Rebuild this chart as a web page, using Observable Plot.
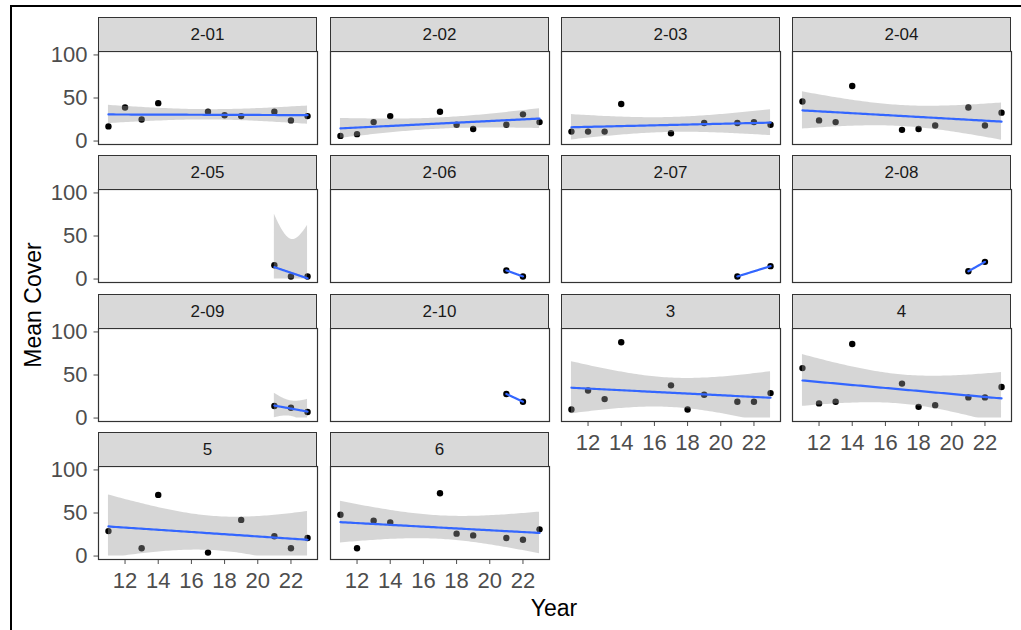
<!DOCTYPE html>
<html><head><meta charset="utf-8">
<script src="https://cdn.jsdelivr.net/npm/d3@7"></script>
<script src="https://cdn.jsdelivr.net/npm/@observablehq/plot@0.6"></script>
<style>
html,body{margin:0;padding:0;background:#fff;}
#chart{position:relative;width:1021px;height:630px;overflow:hidden;font-family:"Liberation Sans",Arial,sans-serif;background:#fff;}
#border{position:absolute;left:10px;top:5px;width:1100px;height:700px;border-left:2px solid #000;border-top:2px solid #000;}
.strip{position:absolute;box-sizing:border-box;border:1.2px solid #333;background:#D9D9D9;color:#1A1A1A;font-size:17px;display:flex;align-items:center;justify-content:center;}
.pn{position:absolute;}
.pn svg{overflow:visible;}
.title{position:absolute;font-size:23px;color:#000;line-height:23px;white-space:nowrap;}
</style></head><body><div id="chart"><div id="border"></div></div>
<script>
// ---- data ----
const panelNames = ["2-01","2-02","2-03","2-04","2-05","2-06","2-07","2-08","2-09","2-10","3","4","5","6"];
const panelYears = [
  [11,12,13,14,17,18,19,21,22,23],
  [11,12,13,14,17,18,19,21,22,23],
  [11,12,13,14,17,19,21,22,23],
  [11,12,13,14,17,18,19,21,22,23],
  [21,22,23],
  [21,22],
  [21,23],
  [21,22],
  [21,22,23],
  [21,22],
  [11,12,13,14,17,18,19,21,22,23],
  [11,12,13,14,17,18,19,21,22,23],
  [11,13,14,17,19,21,22,23],
  [11,12,13,14,17,18,19,21,22,23]
];
const panelCover = [
  [17,39,25,44,34,30,29,34,24,29],
  [6,8,22,29,34,19,14,19,31,22],
  [11,11,11,43,9,21,21,22,19],
  [46,24,22,64,13,14,18,39,18,33],
  [16,3,3],
  [10,3],
  [3,15],
  [9,20],
  [14,12,7],
  [28,19],
  [10,32,22,88,38,10,27,19,19,29],
  [58,17,19,86,40,13,15,24,24,36],
  [29,9,71,4,42,23,9,21],
  [48,9,41,39,73,26,24,21,19,31]
];
const xTicks = [12,14,16,18,20,22];
const yTicks = [0,50,100];
const xTitle = "Year";
const yTitle = "Mean Cover";

// two-sided 95% t quantiles by degrees of freedom
const T975 = [NaN,12.706,4.303,3.182,2.776,2.571,2.447,2.365,2.306,2.262,2.228,2.201,2.179];

// ---- layout ----
const colLeft = [98,330,561,792];
const stripTop = [17,155,294,432];
const PW = 219, PH = 93, SH = 34;
const chart = document.getElementById("chart");

function lmFit(xs, ys){
  const n = xs.length;
  const mx = d3.mean(xs), my = d3.mean(ys);
  let sxx=0, sxy=0;
  for(let i=0;i<n;i++){sxx+=(xs[i]-mx)**2; sxy+=(xs[i]-mx)*(ys[i]-my);}
  const b = sxy/sxx, a = my-b*mx;
  let sse=0; for(let i=0;i<n;i++) sse+=(ys[i]-a-b*xs[i])**2;
  const df = n-2;
  const s = df>0 ? Math.sqrt(sse/df) : NaN;
  const t = df>0 ? T975[df] : NaN;
  const x0 = d3.min(xs), x1 = d3.max(xs);
  const grid = [];
  for(let k=0;k<80;k++){
    const x = x0+(x1-x0)*k/79;
    const f = a+b*x;
    const se = s*Math.sqrt(1/n+(x-mx)**2/sxx);
    grid.push({x, f, lo: Math.max(0, f-t*se), hi: Math.min(104, f+t*se)});
  }
  return {grid, hasBand: df>0};
}

panelNames.forEach((name, i) => {
  const r = Math.floor(i/4), c = i%4;
  const showX = i+4 >= panelNames.length;
  const showY = c === 0;
  const pts = panelYears[i].map((y,k)=>({year:y, cover:panelCover[i][k]}));
  const fit = lmFit(panelYears[i], panelCover[i]);
  const ml = showY ? 98 : 0;
  const mb = showX ? 40 : 1;
  const marks = [
    Plot.dot(pts, {x:"year", y:"cover", r:3.2, fill:"#000", strokeWidth:0})
  ];
  if (fit.hasBand) marks.push(Plot.areaY(fit.grid, {x:"x", y1:"lo", y2:"hi", fill:"#999999", fillOpacity:0.4}));
  marks.push(Plot.line(fit.grid, {x:"x", y:"f", stroke:"#3366FF", strokeWidth:2.2}));
  marks.push(Plot.frame({stroke:"#333", strokeWidth:1.2}));
  const svg = Plot.plot({
    width: ml+PW+1, height: 1+PH+mb,
    marginLeft: ml, marginRight: 1, marginTop: 1, marginBottom: mb,
    style: {fontFamily:'"Liberation Sans",Arial,sans-serif', fontSize:"22px", color:"#4D4D4D", background:"transparent", overflow:"visible"},
    x: {domain:[10.4,23.6], ticks:xTicks, tickSize:5, tickPadding:8, label:null, axis: showX ? "bottom" : null, tickFormat: d=>String(d)},
    y: {domain:[-4,104], ticks:yTicks, tickSize:4.5, tickPadding:6.5, label:null, axis: showY ? "left" : null, tickFormat: d=>String(d)},
    marks
  });
  const wrap = document.createElement("div");
  wrap.className = "pn";
  wrap.style.left = (colLeft[c]-ml)+"px";
  wrap.style.top = (stripTop[r]+SH-1)+"px";
  wrap.appendChild(svg);
  chart.appendChild(wrap);
  const strip = document.createElement("div");
  strip.className = "strip";
  strip.style.left = colLeft[c]+"px";
  strip.style.top = stripTop[r]+"px";
  strip.style.width = PW+"px";
  strip.style.height = (SH+1)+"px";
  strip.textContent = name;
  chart.appendChild(strip);
});

const xt = document.createElement("div");
xt.className = "title";
xt.textContent = xTitle;
xt.style.left = "554px"; xt.style.top = "597px";
xt.style.transform = "translateX(-50%)";
chart.appendChild(xt);

const yt = document.createElement("div");
yt.className = "title";
yt.textContent = yTitle;
yt.style.left = "33px"; yt.style.top = "305px";
yt.style.transform = "translate(-50%,-50%) rotate(-90deg)";
chart.appendChild(yt);
</script>
</body></html>
